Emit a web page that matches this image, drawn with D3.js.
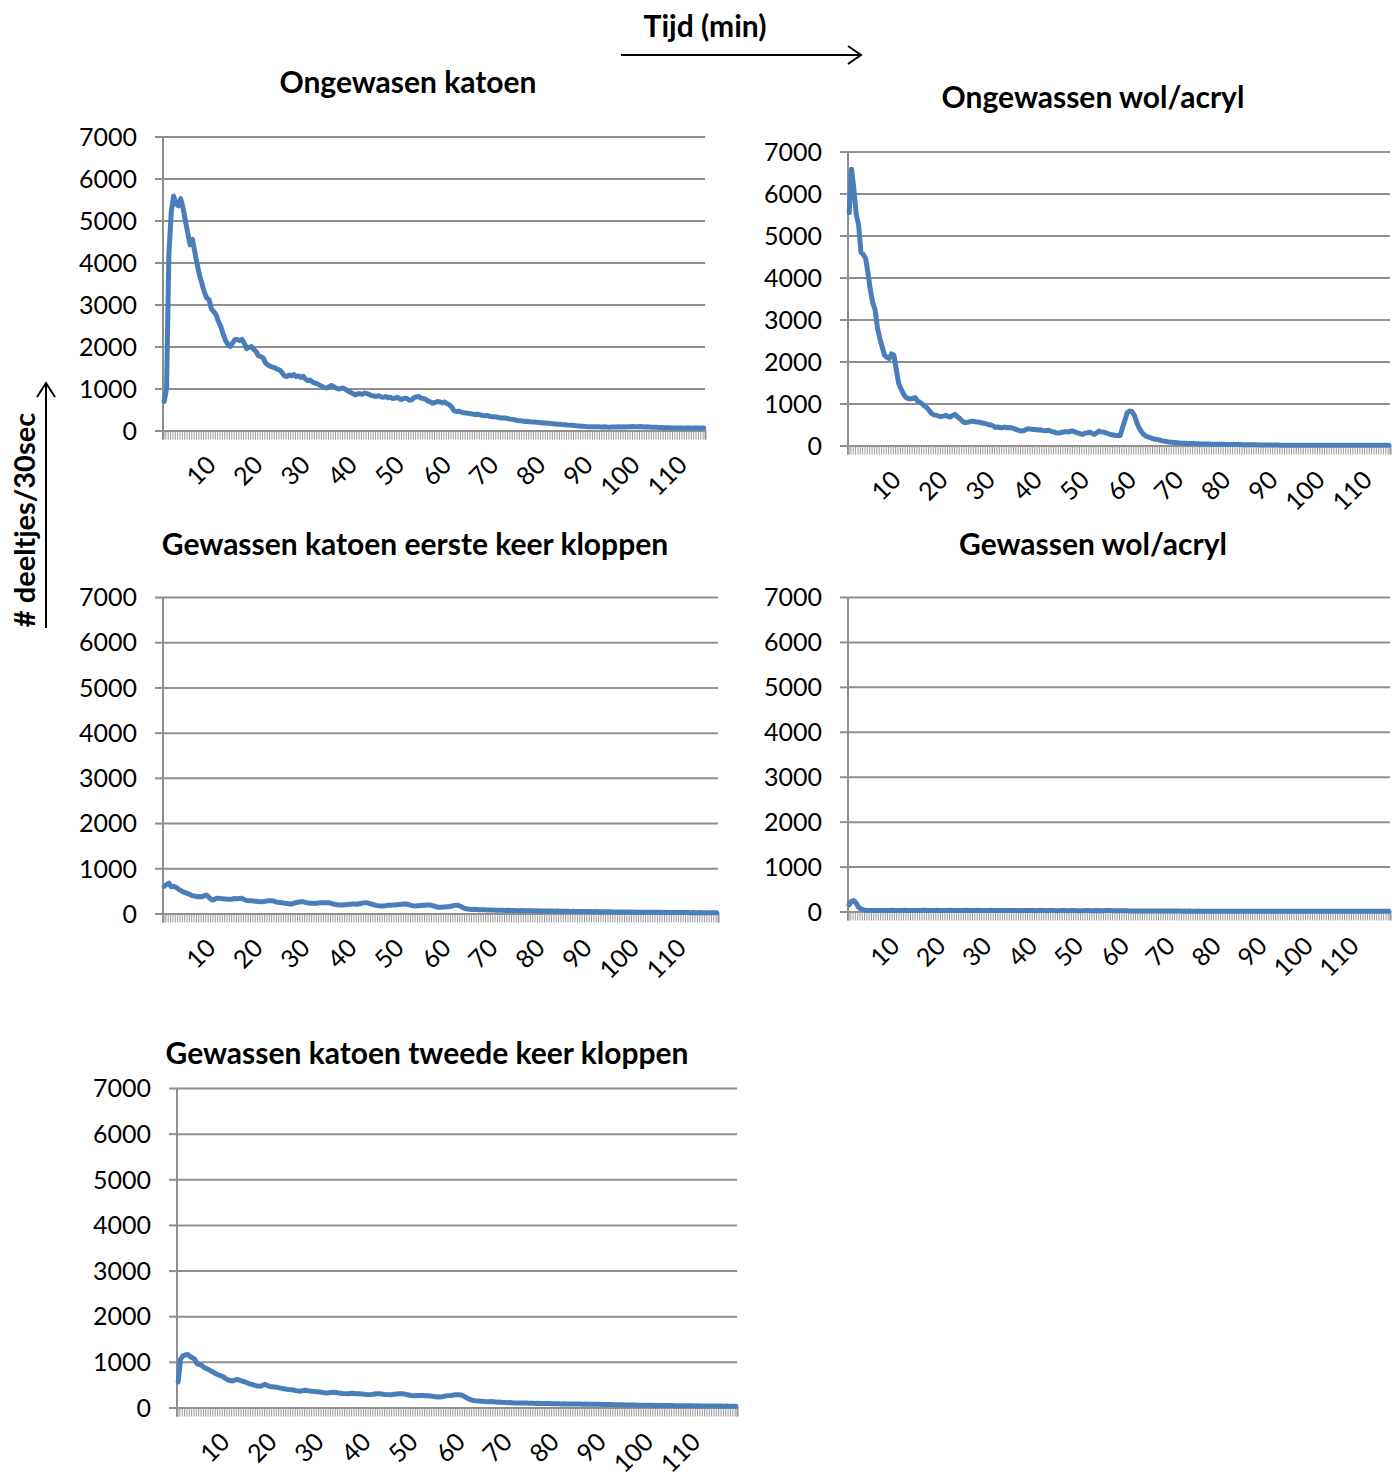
<!DOCTYPE html>
<html>
<head>
<meta charset="utf-8">
<script src="https://cdn.jsdelivr.net/npm/d3@7"></script>
<style>
  body { margin: 0; background: #fff; }
  text { font-family: Lato, "Open Sans", sans-serif; }
</style>
</head>
<body>
<svg id="chart" width="1397" height="1477"></svg>
<script>
// y axis ticks and the minute labels of the category axis (one category = 30 sec)
const yTicks = [0, 1000, 2000, 3000, 4000, 5000, 6000, 7000];
const minuteLabels = [10, 20, 30, 40, 50, 60, 70, 80, 90, 100, 110];

const titles = [
  "Ongewasen katoen",
  "Ongewassen wol/acryl",
  "Gewassen katoen eerste keer kloppen",
  "Gewassen wol/acryl",
  "Gewassen katoen tweede keer kloppen"
];

// particles per 30 sec
const ongewasenKatoen = [
  690, 1000, 4200, 5200, 5580, 5400, 5350, 5520, 5300, 5000,
  4700, 4420, 4550, 4250, 3950, 3700, 3500, 3300, 3160, 3120,
  2900, 2830, 2760, 2600, 2480, 2300, 2150, 2050, 2000, 2080,
  2160, 2170, 2140, 2170, 2080, 1950, 1980, 2000, 1930, 1880,
  1780, 1760, 1730, 1610, 1560, 1530, 1510, 1490, 1460, 1440,
  1380, 1300, 1280, 1320, 1300, 1330, 1280, 1300, 1260, 1290,
  1220, 1190, 1200, 1150, 1130, 1110, 1080, 1050, 1020, 1010,
  1040, 1070, 1040, 1010, 990, 1000, 1010, 980, 940, 910,
  880, 850, 870, 880, 860, 890, 880, 860, 830, 820,
  810, 830, 800, 790, 810, 780, 790, 760, 770, 790,
  750, 740, 770, 760, 720, 730, 780, 800, 810, 770,
  760, 740, 700, 680, 650, 670, 690, 680, 660, 680,
  640, 610, 560, 470, 450, 460, 440, 420, 415, 410,
  400, 390, 380, 385, 375, 360, 350, 360, 340, 330,
  330, 320, 310, 300, 300, 295, 280, 270, 265, 250,
  240, 230, 225, 215, 220, 210, 200, 205, 195, 190,
  185, 180, 180, 170, 165, 160, 155, 150, 150, 140,
  136, 130, 128, 125, 118, 112, 108, 104, 100, 95,
  92, 90, 90, 88, 92, 86, 84, 88, 82, 80,
  84, 86, 82, 88, 85, 90, 86, 92, 88, 94,
  90, 92, 95, 90, 86, 88, 82, 80, 78, 76,
  74, 72, 68, 66, 64, 62, 60, 58, 57, 60,
  58, 56, 58, 57, 55, 57, 59, 56, 58, 57
];

const ongewassenWol = [
  5540, 6580, 6100, 5500, 5250, 4600, 4550, 4450, 4100, 3700,
  3400, 3230, 2800, 2550, 2350, 2150, 2100, 2070, 2180, 2150,
  1800, 1480, 1350, 1230, 1150, 1120, 1110, 1120, 1140, 1060,
  1030, 990, 940, 900, 830, 760, 730, 720, 700, 690,
  700, 720, 690, 680, 720, 740, 680, 640, 580, 540,
  550, 560, 580, 570, 560, 560, 540, 530, 520, 500,
  490, 470, 430, 440, 430, 420, 440, 420, 430, 420,
  400, 380, 360, 345, 350, 380, 400, 390, 380, 380,
  370, 375, 360, 350, 355, 360, 330, 320, 300, 295,
  310, 320, 330, 320, 340, 343, 320, 300, 280, 263,
  290, 300, 320, 290, 263, 300, 343, 320, 320, 300,
  280, 260, 250, 240, 240, 240, 420, 600, 780, 820,
  810, 720, 560, 420, 330, 260, 220, 200, 180, 160,
  150, 140, 125, 110, 100, 90, 80, 75, 70, 65,
  60, 56, 55, 52, 50, 48, 45, 42, 40, 38,
  36, 35, 34, 33, 32, 31, 30, 29, 28, 27,
  26, 25, 24, 24, 23, 22, 21, 20, 19, 18,
  17, 16, 16, 15, 14, 13, 12, 12, 11, 10,
  10, 9, 9, 8, 8, 8, 7, 7, 7, 7,
  6, 6, 7, 6, 6, 5, 6, 5, 5, 6,
  5, 5, 4, 5, 5, 4, 5, 4, 4, 5,
  4, 4, 5, 4, 4, 3, 4, 4, 3, 4,
  4, 3, 3, 4, 3, 3, 4, 3, 3, 3
];

const gewassenKatoen1 = [
  600, 640, 670, 590, 600, 580, 540, 510, 480, 460,
  440, 420, 390, 385, 370, 375, 370, 390, 410, 360,
  310, 300, 330, 340, 330, 325, 320, 315, 314, 320,
  330, 325, 330, 336, 310, 290, 284, 280, 275, 270,
  265, 262, 262, 270, 280, 284, 284, 265, 250, 245,
  240, 230, 220, 215, 210, 225, 240, 250, 260, 262,
  245, 235, 225, 225, 220, 228, 235, 240, 238, 240,
  240, 225, 210, 200, 192, 188, 188, 195, 200, 205,
  210, 210, 205, 215, 225, 235, 240, 225, 210, 195,
  180, 170, 168, 166, 170, 180, 185, 188, 188, 195,
  200, 205, 210, 210, 195, 180, 170, 166, 170, 175,
  180, 185, 188, 188, 175, 160, 145, 137, 140, 145,
  150, 150, 160, 175, 185, 180, 160, 130, 110, 100,
  95, 90, 92, 88, 85, 82, 85, 80, 78, 76,
  75, 74, 72, 73, 70, 68, 70, 67, 66, 68,
  64, 63, 65, 62, 61, 63, 60, 59, 58, 60,
  57, 56, 55, 57, 54, 53, 52, 54, 51, 50,
  49, 51, 48, 47, 48, 46, 45, 45, 44, 43,
  44, 42, 41, 40, 42, 39, 38, 39, 37, 36,
  37, 35, 34, 35, 33, 32, 33, 31, 32, 30,
  31, 30, 29, 30, 29, 28, 29, 27, 26, 27,
  25, 26, 24, 25, 23, 24, 22, 23, 22, 21,
  22, 20, 21, 20, 19, 20, 19, 18, 20, 18,
  17, 16, 17, 15, 16, 15
];

const gewassenWol = [
  150, 225, 245, 190, 100, 60, 40, 30, 25, 22, 20,
  22, 24, 21, 23, 25, 22, 20, 24, 26, 23,
  21, 22, 25, 27, 24, 22, 20, 23, 25, 24,
  22, 26, 28, 25, 23, 21, 24, 26, 24, 22,
  20, 23, 25, 27, 24, 22, 21, 24, 23, 25,
  27, 24, 22, 20, 23, 26, 25, 23, 21, 22,
  24, 26, 23, 21, 20, 22, 25, 24, 22, 21,
  23, 25, 22, 20, 19, 21, 23, 24, 22, 20,
  19, 21, 23, 22, 20, 18, 20, 22, 21, 19,
  18, 20, 22, 21, 19, 18, 20, 21, 19, 18,
  17, 19, 21, 20, 18, 17, 19, 20, 18, 17,
  18, 20, 22, 21, 19, 18, 17, 16, 15, 14,
  14, 13, 13, 12, 12, 13, 12, 11, 11, 12,
  11, 10, 11, 10, 10, 11, 10, 9, 10, 9,
  9, 10, 9, 9, 8, 9, 8, 9, 8, 8,
  8, 9, 8, 7, 8, 8, 7, 8, 7, 7,
  8, 7, 7, 7, 6, 7, 7, 6, 7, 6,
  6, 7, 6, 6, 6, 7, 6, 6, 5, 6,
  6, 5, 6, 6, 5, 6, 5, 5, 6, 5,
  5, 6, 5, 5, 5, 6, 5, 5, 5, 4,
  5, 5, 4, 5, 5, 4, 5, 5, 4, 5,
  4, 5, 4, 4, 5, 4, 4, 5, 4, 4,
  4, 5, 4, 4, 4, 5, 4, 4, 4, 4,
  4, 5, 4, 4, 4
];

const gewassenKatoen2 = [
  560, 1060, 1130, 1150, 1160, 1120, 1090, 1060, 960, 940,
  925, 880, 850, 830, 800, 770, 740, 715, 700, 680,
  640, 610, 590, 580, 600, 615, 600, 580, 570, 545,
  525, 510, 495, 480, 470, 465, 490, 505, 480, 460,
  455, 450, 440, 430, 420, 410, 400, 393, 390, 385,
  370, 360, 356, 370, 378, 370, 360, 355, 348, 345,
  340, 335, 325, 320, 322, 328, 333, 330, 320, 310,
  305, 304, 300, 305, 310, 306, 300, 304, 298, 290,
  285, 282, 285, 292, 300, 304, 300, 292, 285, 282,
  280, 282, 290, 298, 302, 304, 295, 285, 272, 265,
  260, 258, 262, 265, 262, 260, 255, 250, 245, 238,
  232, 230, 236, 245, 255, 260, 265, 272, 280, 282,
  275, 260, 230, 200, 175, 160, 150, 145, 140, 135,
  132, 128, 125, 130, 125, 120, 115, 118, 112, 108,
  105, 110, 104, 100, 98, 100,
  98, 96, 97, 94, 92, 93, 90, 91, 88, 89, 86, 87, 85, 84, 82, 83, 80,
  79, 80, 78, 77, 78, 76, 75, 76, 74, 73, 74, 72, 71, 72, 70, 71, 70,
  68, 67, 66, 65, 66, 63, 62, 61, 60, 58, 57, 56, 55, 54, 53, 52, 50,
  50, 49, 48, 49, 47, 46, 47, 45, 44, 45, 43, 42, 43, 42, 41, 40, 40,
  39, 40, 38, 37, 38, 36, 35, 36, 35, 34, 35, 33, 32, 33, 32, 31, 32, 31,
  30, 31, 30, 29, 30, 30
];

const series = [ongewasenKatoen, ongewassenWol, gewassenKatoen1, gewassenWol, gewassenKatoen2];

// panel placement on the page
const panels = [
  { left: 163, right: 705,  base: 430.5,  top: 136.5, tx: 408,  ty: 93 },
  { left: 848, right: 1390, base: 445.5,  top: 151.5, tx: 1093, ty: 108, clipBottom: 501 },
  { left: 163, right: 718,  base: 913.5,  top: 597,   tx: 415,  ty: 555 },
  { left: 848, right: 1390, base: 911.5,  top: 597,   tx: 1093, ty: 555 },
  { left: 177, right: 737,  base: 1407.5, top: 1088,  tx: 427,  ty: 1064 }
];

const blue = "#4a7ebb";
const grey = "#8e8e8e";

const svg = d3.select("#chart");

svg.append("defs").append("clipPath").attr("id", "clip2")
  .append("rect").attr("x", 0).attr("y", 0).attr("width", 1397).attr("height", panels[1].clipBottom);

panels.forEach((p, k) => {
  const data = series[k];
  const n = data.length;
  const x = d3.scaleLinear().domain([0, n]).range([p.left, p.right]);
  const y = d3.scaleLinear().domain([0, 7000]).range([p.base, p.top]);
  const g = svg.append("g");

  // gridlines
  const grid = g.append("g")
    .attr("transform", `translate(${p.left},0)`)
    .call(d3.axisLeft(y).tickValues(yTicks).tickSize(-(p.right - p.left)).tickFormat(""));
  grid.select(".domain").remove();
  grid.selectAll("line").attr("stroke", grey).attr("stroke-width", 2);

  // y axis
  const ya = g.append("g")
    .attr("transform", `translate(${p.left},0)`)
    .call(d3.axisLeft(y).tickValues(yTicks).tickSize(8).tickPadding(18).tickFormat(d3.format("d")));
  ya.select(".domain").attr("stroke", grey).attr("stroke-width", 2).attr("d", `M0,${p.top}V${p.base + 9}`);
  ya.selectAll("line").attr("stroke", grey).attr("stroke-width", 2);
  ya.selectAll("text").attr("font-size", 25).attr("fill", "#000").attr("dy", "0.35em");

  // category ticks, one for every 30 sec
  const xa = g.append("g")
    .attr("transform", `translate(0,${p.base})`)
    .call(d3.axisBottom(x).tickValues(d3.range(n + 1)).tickSize(9).tickFormat(""));
  xa.select(".domain").attr("stroke", grey).attr("stroke-width", 2);
  xa.selectAll("line").attr("stroke", "#9a9a9a").attr("stroke-width", 1);

  // minute labels, rotated
  const xl = g.append("g")
    .attr("transform", `translate(0,${p.base})`)
    .call(d3.axisBottom(x).tickValues(minuteLabels.map(m => m * 2 - 0.5)).tickSize(0)
      .tickFormat((d, i) => minuteLabels[i]));
  xl.select(".domain").remove();
  xl.selectAll("text")
    .attr("font-size", 25).attr("fill", "#000")
    .attr("x", 0).attr("y", 0).attr("dy", null)
    .attr("text-anchor", "end")
    .attr("transform", "translate(8,36) rotate(-45)");
  if (p.clipBottom) xl.attr("clip-path", "url(#clip2)");

  // the series
  g.append("path")
    .datum(data)
    .attr("fill", "none")
    .attr("stroke", blue)
    .attr("stroke-width", 5)
    .attr("stroke-linejoin", "round")
    .attr("stroke-linecap", "round")
    .attr("d", d3.line().x((d, i) => x(i + 0.5)).y(d => y(d)));

  // title
  g.append("text")
    .attr("x", p.tx).attr("y", p.ty)
    .attr("text-anchor", "middle")
    .attr("font-size", 30).attr("font-weight", "bold")
    .text(titles[k]);
});

// time arrow
svg.append("text").attr("x", 705).attr("y", 37).attr("text-anchor", "middle")
  .attr("font-size", 30).attr("font-weight", "bold").text("Tijd (min)");
svg.append("path").attr("d", "M621,55H861M848,46L861,55L848,64")
  .attr("fill", "none").attr("stroke", "#000").attr("stroke-width", 2);

// count arrow
svg.append("text").attr("transform", "translate(35,520) rotate(-90)").attr("text-anchor", "middle")
  .attr("font-size", 29).attr("font-weight", "bold").text("# deeltjes/30sec");
svg.append("path").attr("d", "M46,628V383M37,397L46,383L55,397")
  .attr("fill", "none").attr("stroke", "#000").attr("stroke-width", 2);
</script>
</body>
</html>
